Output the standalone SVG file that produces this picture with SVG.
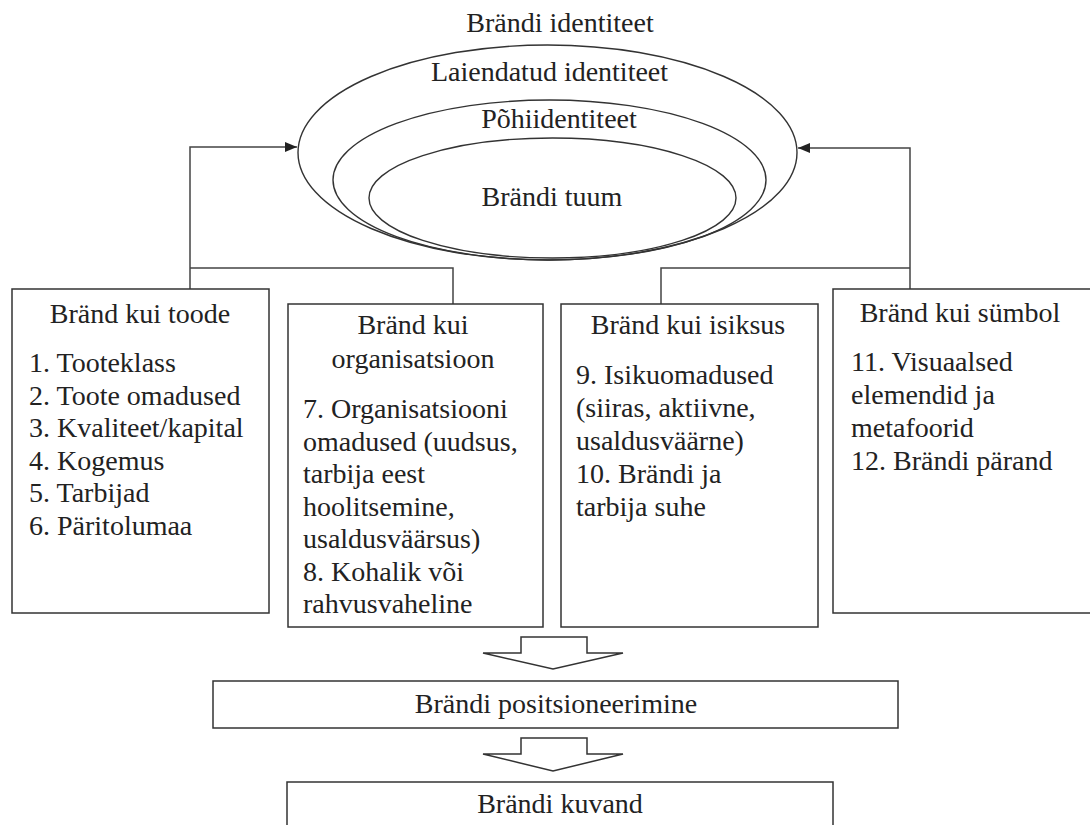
<svg xmlns="http://www.w3.org/2000/svg" width="1090" height="825" viewBox="0 0 1090 825">
<defs>
<style>
.t{font-family:"Liberation Serif","Times New Roman",serif;font-size:28px;fill:#222}
.c{text-anchor:middle}
.b{fill:#fff;stroke:#333;stroke-width:1.5}
.e{fill:none;stroke:#333;stroke-width:1.4}
.ln{fill:none;stroke:#444;stroke-width:1.5}
</style>
<marker id="ah" viewBox="0 0 12 10" refX="12" refY="5" markerWidth="12" markerHeight="10" markerUnits="userSpaceOnUse" orient="auto">
<path d="M0,0 L12,5 L0,10 Z" fill="#222"/>
</marker>
</defs>
<rect width="1090" height="825" fill="#fff"/>

<g id="identity">
<text class="t c" x="560" y="32">Brändi identiteet</text>
<ellipse class="e" cx="547.5" cy="152.5" rx="249.5" ry="107.5"/>
<text class="t c" x="549.5" y="81">Laiendatud identiteet</text>
<ellipse class="e" cx="549.5" cy="180" rx="216.5" ry="80"/>
<text class="t c" x="559" y="128">Põhiidentiteet</text>
<ellipse class="e" cx="552.5" cy="198" rx="183.5" ry="60"/>
<text class="t c" x="552" y="206">Brändi tuum</text>
</g>

<g id="connectors">
<path class="ln" d="M190,290 V147 H297" marker-end="url(#ah)"/>
<path class="ln" d="M190,268 H453 V304"/>
<path class="ln" d="M910,289 V148 H798" marker-end="url(#ah)"/>
<path class="ln" d="M661,304 V268 H910"/>
<path class="b" d="M521,637 H587 V653 H623 L553,669 L483,653 H521 Z"/>
<path class="b" d="M521,738 H587 V754 H623 L553,771 L483,754 H521 Z"/>
</g>

<g id="toode">
<rect class="b" x="12" y="289" width="257" height="324"/>
<text class="t c" x="140" y="323">Bränd kui toode</text>
<text class="t" x="29" y="372">1. Tooteklass</text>
<text class="t" x="29" y="404.5">2. Toote omadused</text>
<text class="t" x="29" y="437">3. Kvaliteet/kapital</text>
<text class="t" x="29" y="469.5">4. Kogemus</text>
<text class="t" x="29" y="502">5. Tarbijad</text>
<text class="t" x="29" y="534.5">6. Päritolumaa</text>
</g>

<g id="organisatsioon">
<rect class="b" x="288" y="304" width="255" height="323"/>
<text class="t c" x="413" y="334">Bränd kui</text>
<text class="t c" x="413" y="368">organisatsioon</text>
<text class="t" x="303" y="418">7. Organisatsiooni</text>
<text class="t" x="303" y="450.5">omadused (uudsus,</text>
<text class="t" x="303" y="483">tarbija eest</text>
<text class="t" x="303" y="515.5">hoolitsemine,</text>
<text class="t" x="303" y="548">usaldusväärsus)</text>
<text class="t" x="303" y="580.5">8. Kohalik või</text>
<text class="t" x="303" y="613">rahvusvaheline</text>
</g>

<g id="isiksus">
<rect class="b" x="561" y="304" width="257" height="323"/>
<text class="t c" x="688" y="334">Bränd kui isiksus</text>
<text class="t" x="576" y="384">9. Isikuomadused</text>
<text class="t" x="576" y="417">(siiras, aktiivne,</text>
<text class="t" x="576" y="450">usaldusväärne)</text>
<text class="t" x="576" y="483">10. Brändi ja</text>
<text class="t" x="576" y="516">tarbija suhe</text>
</g>

<g id="symbol">
<rect class="b" x="833" y="289" width="260" height="324"/>
<text class="t c" x="960" y="322">Bränd kui sümbol</text>
<text class="t" x="851" y="371">11. Visuaalsed</text>
<text class="t" x="851" y="404">elemendid ja</text>
<text class="t" x="851" y="437">metafoorid</text>
<text class="t" x="851" y="469.5">12. Brändi pärand</text>
</g>

<g id="positsioneerimine">
<rect class="b" x="213" y="681" width="685" height="47"/>
<text class="t c" x="556" y="713">Brändi positsioneerimine</text>
</g>

<g id="kuvand">
<rect class="b" x="287" y="782" width="546" height="60"/>
<text class="t c" x="560" y="813">Brändi kuvand</text>
</g>
</svg>
